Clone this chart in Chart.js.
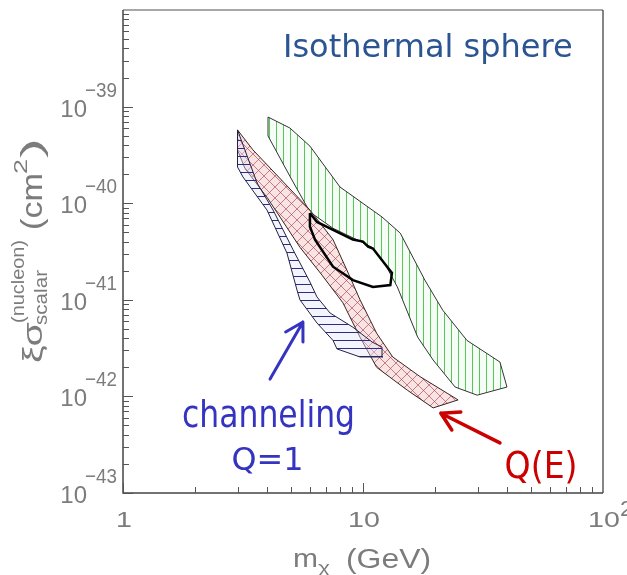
<!DOCTYPE html>
<html>
<head>
<meta charset="utf-8">
<script src="https://cdn.jsdelivr.net/npm/chart.js@4.4.0/dist/chart.umd.min.js"></script>
<style>
  html, body { margin: 0; padding: 0; background: #fff; }
  #wrap { width: 627px; height: 575px; }
</style>
</head>
<body>
<div id="wrap"><canvas id="myChart"></canvas></div>
<script>
// Green band (vertical hatch): WIMP mass in GeV, cross section in cm^2
const greenMass = [4.02, 4.96, 6.01, 8.02, 12.0, 14.3, 18.1, 21.5, 27.1, 37.2, 39.8, 29.9,
  24.2, 19.6, 16.9, 13.9, 12.4, 10.9, 10.0, 7.50, 6.01, 4.96, 4.02, 4.02];
const greenSigma = [7.8e-40, 6.0e-40, 3.9e-40, 1.47e-40, 7.2e-41, 4.9e-41, 1.6e-41, 7.8e-42,
  3.8e-42, 2.27e-42, 1.25e-42, 1.03e-42, 1.25e-42, 2.38e-42, 4.1e-42, 1.36e-41, 2.3e-41,
  3.5e-41, 3.9e-41, 5.5e-41, 8.1e-41, 1.9e-40, 4.97e-40, 7.8e-40];

// Red band, Q(E) (cross hatch)
const redMass = [3.0, 3.48, 6.01, 7.50, 8.83, 9.72, 11.4, 13.3, 17.3, 22.4, 24.9, 19.6,
  15.3, 11.4, 9.72, 8.25, 6.75, 5.46, 4.0, 3.22, 3.0, 3.0];
const redSigma = [5.73e-40, 3.56e-40, 8.5e-41, 4.2e-41, 1.72e-41, 1.0e-41, 4.5e-42, 2.56e-42,
  1.6e-42, 1.08e-42, 9.2e-43, 7.6e-43, 1.16e-42, 2.0e-42, 4.1e-42, 9.3e-42, 1.8e-41,
  3.5e-41, 1.13e-40, 2.3e-40, 3.56e-40, 5.73e-40];

// Blue band, channeling Q=1 (horizontal hatch)
const blueMass = [3.0, 3.0, 3.16, 3.98, 4.82, 5.31, 5.46, 6.43, 7.50, 7.79, 9.72, 12.1,
  12.0, 10.9, 9.08, 7.29, 6.43, 6.01, 5.11, 4.22, 3.62, 3.22, 3.0];
const blueSigma = [5.73e-40, 2.37e-40, 1.87e-40, 8.5e-41, 3.05e-41, 1.26e-41, 1.0e-41,
  5.75e-42, 3.8e-42, 3.1e-42, 2.56e-42, 2.56e-42, 3.24e-42, 3.66e-42, 5.2e-42, 7.3e-42,
  1.07e-41, 1.53e-41, 3.3e-41, 8.5e-41, 1.62e-40, 3.56e-40, 5.73e-40];

// Black closed contour
const contourMass = [6.01, 6.43, 7.50, 9.08, 10.0, 10.5, 11.0, 12.6, 13.2, 13.0, 11.0,
  9.08, 7.50, 6.31, 6.01, 6.01];
const contourSigma = [7.9e-41, 6.4e-41, 5.3e-41, 4.2e-41, 4.0e-41, 3.55e-41, 3.4e-41,
  2.2e-41, 1.9e-41, 1.42e-41, 1.36e-41, 1.6e-41, 2.2e-41, 4.2e-41, 5.7e-41, 7.9e-41];

// Axis ranges and tick labels
const xMin = 1, xMax = 100;
const yMin = 1e-43, yMax = 1e-38;
const xTickValues = [1, 10, 100];
const xTickBases = ["1", "10", "10"];
const xTickExps = ["", "", "2"];
const yTickValues = [1e-43, 1e-42, 1e-41, 1e-40, 1e-39];
const yTickExps = ["\u221243", "\u221242", "\u221241", "\u221240", "\u221239"];

// Annotations placed in data coordinates
const notes = [
  { text: "Isothermal sphere", m: 4.64, s: 3.26e-39, align: "left", font: "32px 'DejaVu Sans'", color: "#2b5592", width: 292 },
  { text: "channeling", m: 4.04, s: 4.8e-43, align: "center", font: "38px 'DejaVu Sans Condensed', 'DejaVu Sans'", color: "#3434c0", width: 173 },
  { text: "Q=1", m: 4.0, s: 1.73e-43, align: "center", font: "32px 'DejaVu Sans'", color: "#3434c0", width: 72 },
  { text: "Q(E)", m: 55.2, s: 1.43e-43, align: "center", font: "38px 'DejaVu Sans Condensed', 'DejaVu Sans'", color: "#cc0000", width: 73 },
];
const arrows = [
  { m1: 4.10, s1: 1.51e-42, m2: 5.62, s2: 5.9e-42, color: "#3434c0", width: 3 },
  { m1: 37.2, s1: 3.3e-43, m2: 21.1, s2: 6.7e-43, color: "#cc0000", width: 3.5 },
];

const axisFont = "'Liberation Sans', Arial, sans-serif";
const axisColor = "#7c7c7c";

function toPoints(xs, ys) {
  return xs.map((x, i) => ({ x: x, y: ys[i] }));
}

// Hatch patterns
const canvas = document.getElementById("myChart");
function makePattern(size, bg, drawFn) {
  const tile = document.createElement("canvas");
  tile.width = size;
  tile.height = size;
  const g = tile.getContext("2d");
  if (bg) {
    g.fillStyle = bg;
    g.fillRect(0, 0, size, size);
  }
  drawFn(g, size);
  return canvas.getContext("2d").createPattern(tile, "repeat");
}

const greenPattern = makePattern(7, "rgba(225,248,225,0.3)", function (g, s) {
  g.strokeStyle = "#55c855";
  g.lineWidth = 1;
  g.beginPath();
  g.moveTo(3.5, 0);
  g.lineTo(3.5, s);
  g.stroke();
});

const redPattern = makePattern(11, "#f9e4e4", function (g, s) {
  g.strokeStyle = "rgba(175,60,80,0.8)";
  g.lineWidth = 0.8;
  g.beginPath();
  for (let k = -s; k <= s; k += s) {
    g.moveTo(k, 0);
    g.lineTo(k + s, s);
    g.moveTo(k + s, 0);
    g.lineTo(k, s);
  }
  g.stroke();
});

const bluePattern = makePattern(8, "rgba(228,228,248,0.4)", function (g, s) {
  g.strokeStyle = "#2c2c88";
  g.lineWidth = 1;
  g.beginPath();
  g.moveTo(0, 4.5);
  g.lineTo(s, 4.5);
  g.stroke();
});

// Draw text stretched/compressed to a given width
function fitText(ctx, text, x, y, width) {
  const w = ctx.measureText(text).width;
  ctx.save();
  ctx.translate(x, y);
  ctx.scale(width / w, 1);
  ctx.fillText(text, 0, 0);
  ctx.restore();
}

function drawArrow(ctx, x1, y1, x2, y2, color, lw) {
  const ang = Math.atan2(y2 - y1, x2 - x1);
  const head = 20;
  ctx.strokeStyle = color;
  ctx.lineWidth = lw;
  ctx.lineCap = "round";
  ctx.lineJoin = "round";
  ctx.beginPath();
  ctx.moveTo(x1, y1);
  ctx.lineTo(x2, y2);
  ctx.moveTo(x2 - head * Math.cos(ang - Math.PI / 6), y2 - head * Math.sin(ang - Math.PI / 6));
  ctx.lineTo(x2, y2);
  ctx.lineTo(x2 - head * Math.cos(ang + Math.PI / 6), y2 - head * Math.sin(ang + Math.PI / 6));
  ctx.stroke();
}

// Frame, inward ticks, tick labels, axis titles and annotations
const paperAxes = {
  id: "paperAxes",
  afterDraw(chart) {
    const ctx = chart.ctx;
    const xs = chart.scales.x;
    const ys = chart.scales.y;
    const a = chart.chartArea;
    ctx.save();

    // frame
    ctx.lineCap = "butt";
    ctx.strokeStyle = "#8a8a8a";
    ctx.lineWidth = 1.5;
    ctx.beginPath();
    ctx.moveTo(a.left, a.top);
    ctx.lineTo(a.right, a.top);
    ctx.stroke();
    ctx.strokeStyle = "#333";
    ctx.lineWidth = 1.2;
    ctx.beginPath();
    ctx.moveTo(a.right, a.top);
    ctx.lineTo(a.right, a.bottom);
    ctx.stroke();
    ctx.strokeStyle = "#444";
    ctx.lineWidth = 1.5;
    ctx.beginPath();
    ctx.moveTo(a.left, a.top);
    ctx.lineTo(a.left, a.bottom);
    ctx.lineTo(a.right, a.bottom);
    ctx.stroke();

    // ticks
    ctx.lineWidth = 1;
    ctx.strokeStyle = "#555";
    ctx.beginPath();
    for (let e = -43; e <= -39; e++) {
      for (let k = 1; k <= 9; k++) {
        const py = Math.round(ys.getPixelForValue(k * Math.pow(10, e))) + 0.5;
        ctx.moveTo(a.left, py);
        ctx.lineTo(a.left + (k === 1 ? 10 : 6), py);
      }
    }
    for (let e = 0; e <= 1; e++) {
      for (let k = 1; k <= 9; k++) {
        const px = Math.round(xs.getPixelForValue(k * Math.pow(10, e))) + 0.5;
        ctx.moveTo(px, a.bottom);
        ctx.lineTo(px, a.bottom - (k === 1 ? 10 : 6));
      }
    }
    ctx.stroke();

    // y tick labels
    ctx.fillStyle = axisColor;
    ctx.textBaseline = "alphabetic";
    yTickValues.forEach(function (v, i) {
      const py = ys.getPixelForValue(v);
      ctx.font = "24px " + axisFont;
      ctx.textAlign = "right";
      ctx.fillText("10", a.left - 36, py + 10);
      ctx.font = "21px " + axisFont;
      ctx.textAlign = "left";
      fitText(ctx, yTickExps[i], a.left - 38, py - 10, 32);
    });

    // x tick labels (wide lettering)
    ctx.textAlign = "left";
    xTickValues.forEach(function (v, i) {
      const px = xs.getPixelForValue(v);
      ctx.font = "22px " + axisFont;
      const w = ctx.measureText(xTickBases[i]).width * 1.3;
      fitText(ctx, xTickBases[i], px - w / 2 + 1, a.bottom + 34, w);
      if (xTickExps[i]) {
        fitText(ctx, xTickExps[i], px + w / 2 + 1, a.bottom + 23, 13);
      }
    });

    // x axis title: m_chi (GeV)
    ctx.font = "25px " + axisFont;
    fitText(ctx, "m", a.left + 170, a.bottom + 74, 25);
    ctx.font = "17px " + axisFont;
    fitText(ctx, "\u03c7", a.left + 195, a.bottom + 80, 12);
    ctx.font = "27px " + axisFont;
    fitText(ctx, "(GeV)", a.left + 223, a.bottom + 75, 85);

    // y axis title, rotated
    ctx.save();
    ctx.translate(a.left - 81, a.bottom - 130);
    ctx.rotate(-Math.PI / 2);
    ctx.font = "28px " + axisFont;
    fitText(ctx, "\u03be\u03c3", 0, 0, 41);
    ctx.font = "19px " + axisFont;
    fitText(ctx, "(nucleon)", 40, -18, 83);
    fitText(ctx, "scalar", 38, 5, 55);
    ctx.font = "30px " + axisFont;
    fitText(ctx, "(cm", 133, 0, 57);
    ctx.font = "19px " + axisFont;
    fitText(ctx, "2", 189, -15, 15);
    ctx.font = "30px " + axisFont;
    fitText(ctx, ")", 205, 0, 20);
    ctx.restore();

    // arrows
    arrows.forEach(function (ar) {
      drawArrow(ctx,
        xs.getPixelForValue(ar.m1), ys.getPixelForValue(ar.s1),
        xs.getPixelForValue(ar.m2), ys.getPixelForValue(ar.s2),
        ar.color, ar.width);
    });

    // annotation texts
    notes.forEach(function (n) {
      ctx.font = n.font;
      ctx.fillStyle = n.color;
      ctx.textAlign = n.align;
      ctx.fillText(n.text, xs.getPixelForValue(n.m), ys.getPixelForValue(n.s), n.width);
    });

    ctx.restore();
  },
};

const chart = new Chart(canvas.getContext("2d"), {
  type: "line",
  data: {
    datasets: [
      {
        label: "contour",
        data: toPoints(contourMass, contourSigma),
        fill: false,
        borderColor: "#000",
        borderWidth: 2.5,
      },
      {
        label: "channeling Q=1",
        data: toPoints(blueMass, blueSigma),
        fill: "shape",
        backgroundColor: bluePattern,
        borderColor: "#222244",
        borderWidth: 1,
      },
      {
        label: "Q(E)",
        data: toPoints(redMass, redSigma),
        fill: "shape",
        backgroundColor: redPattern,
        borderColor: "#3a2222",
        borderWidth: 1,
      },
      {
        label: "green",
        data: toPoints(greenMass, greenSigma),
        fill: "shape",
        backgroundColor: greenPattern,
        borderColor: "#333",
        borderWidth: 1,
      },
    ],
  },
  options: {
    responsive: true,
    maintainAspectRatio: false,
    animation: false,
    layout: { padding: { left: 123, top: 10, right: 24, bottom: 82 } },
    elements: {
      point: { radius: 0, hoverRadius: 0 },
      line: { tension: 0 },
    },
    plugins: {
      legend: { display: false },
      tooltip: { enabled: false },
    },
    scales: {
      x: { type: "logarithmic", min: xMin, max: xMax, display: false },
      y: { type: "logarithmic", min: yMin, max: yMax, display: false },
    },
  },
  plugins: [paperAxes],
});
</script>
</body>
</html>
